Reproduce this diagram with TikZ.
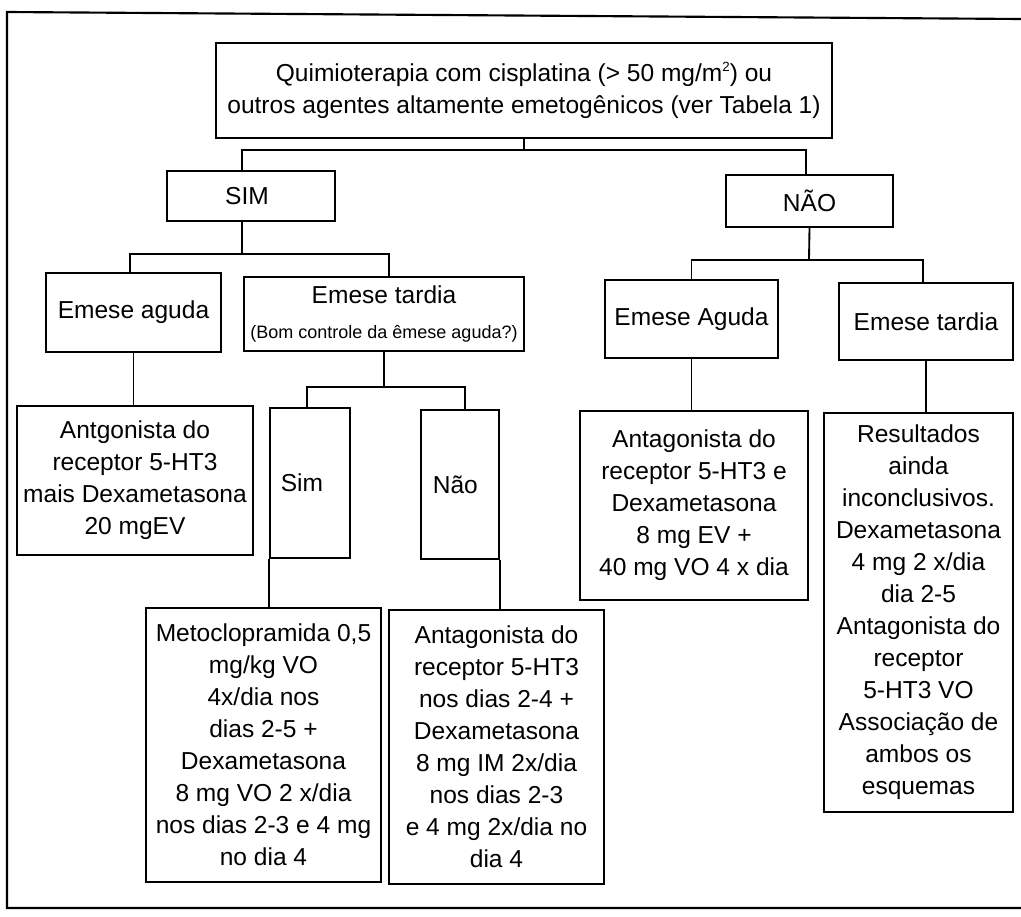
\documentclass[tikz,border=0pt]{standalone}
\usepackage{fontspec}
\setmainfont{Liberation Sans}
\begin{document}
\begin{tikzpicture}[x=0.75pt,y=-0.75pt,
  box/.style={draw,line width=1.4pt,inner sep=0pt,align=center,
    font=\fontsize{18.4}{24}\selectfont},
  wh/.style 2 args={minimum width=#1*0.75pt,minimum height=#2*0.75pt},
  link/.style={line width=1.4pt},
  frame/.style={line width=1.6pt}]
\useasboundingbox (0,0) rectangle (1021,917);
\fill[white] (0,0) rectangle (1021,917);
\draw[frame] (1021,19) -- (7,12) -- (7,908) -- (1021,908);

% level 0
\node[box,wh={616}{95}] (top) at (524,90.5)
  {Quimioterapia com cisplatina (> 50 mg/m\raisebox{0.75ex}{\fontsize{10}{10}\selectfont 2}) ou\\
   outros agentes altamente emetogênicos (ver Tabela 1)};
% level 1
\node[box,wh={168}{50}] (sim) at (251,196) {SIM\hspace*{6pt}};
\node[box,wh={167}{52}] (nao) at (809.5,201) {NÃO};
% level 2
\node[box,wh={175}{79}] (ea) at (133.5,312.5) {Emese aguda};
\node[box,wh={280}{74}] (et) at (384,314)
  {Emese tardia\\[2pt]{\fontsize{13.5}{16}\selectfont(Bom controle da êmese aguda?)}};
\node[box,wh={173}{78}] (ea2) at (691.5,319) {Emese Aguda};
\node[box,wh={174}{77}] (et2) at (926,321.5) {Emese tardia};
% level 3
\node[box,wh={236}{149}] (ant1) at (135,480.5)
  {Antgonista do\\receptor 5-HT3\\mais Dexametasona\\20 mgEV};
\node[box,wh={80}{150}] (simb) at (310,483) {Sim\hspace*{12pt}};
\node[box,wh={78}{149}] (naob) at (460,484.5) {Não\hspace*{7pt}};
\node[box,wh={228}{189}] (ant2) at (694,505.5)
  {\raisebox{-6pt}{\begin{tabular}{@{}c@{}}Antagonista do\\receptor 5-HT3 e\\Dexametasona\\8 mg EV +\\40 mg VO 4 x dia\end{tabular}}};
\node[box,wh={189}{399}] (res) at (918.5,612.5)
  {Resultados\\ainda\\inconclusivos.\\Dexametasona\\4 mg 2 x/dia\\dia 2-5\\
   Antagonista do\\receptor\\5-HT3 VO\\Associação de\\ambos os\\esquemas};
% level 4
\node[box,wh={235}{274}] (meto) at (263.5,745)
  {Metoclopramida 0,5\\mg/kg VO\\4x/dia nos\\dias 2-5 +\\Dexametasona\\
   8 mg VO 2 x/dia\\nos dias 2-3 e 4 mg\\no dia 4};
\node[box,wh={215}{274}] (ant3) at (496.5,747)
  {Antagonista do\\receptor 5-HT3\\nos dias 2-4 +\\Dexametasona\\
   8 mg IM 2x/dia\\nos dias 2-3\\e 4 mg 2x/dia no\\dia 4};

% connectors
\coordinate (b1) at (524,150);
\draw[link] (top.south) -- (b1);
\draw[link] ([xshift=-6.75pt]sim.north) |- (b1) -| ([xshift=-2.6pt]nao.north);

\coordinate (b2) at (242,254);
\draw[link] ([xshift=-6.75pt]sim.south) -- (b2);
\draw[link] ([xshift=-2.6pt]ea.north) |- (b2) -| ([xshift=3.75pt]et.north);

\coordinate (b3) at (809,260);
\draw[link] (nao.south) -- (b3);
\draw[link] (ea2.north) |- (b3) -| ([xshift=-2.25pt]et2.north);

\draw[link] (ea.south) -- (ea.south |- ant1.north);

\coordinate (b4) at (384,387);
\draw[link] (et.south) -- (b4);
\draw[link] ([xshift=-2.25pt]simb.north) |- (b4) -| ([xshift=3.75pt]naob.north);

\draw[link] (simb.south west) -- (simb.south west |- meto.north);
\draw[link] (naob.south east) -- (naob.south east |- ant3.north);
\draw[link] (ea2.south) -- (ea2.south |- ant2.north);
\draw[link] (et2.south) -- (et2.south |- res.north);
\end{tikzpicture}
\end{document}
